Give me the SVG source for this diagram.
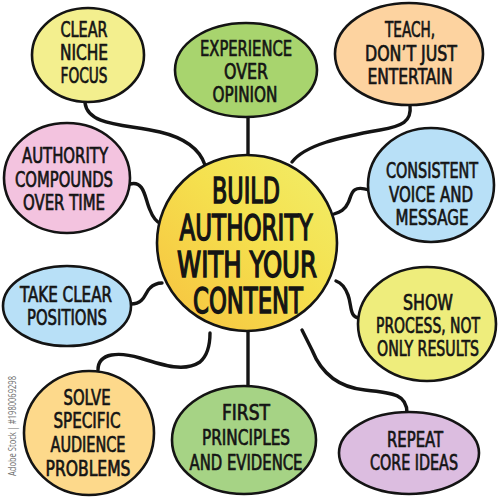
<svg xmlns="http://www.w3.org/2000/svg" width="500" height="497" viewBox="0 0 500 497">
<defs>
<linearGradient id="cg" x1="0" y1="1" x2="1" y2="0">
<stop offset="0" stop-color="#f7c13f"/>
<stop offset="0.55" stop-color="#f5e04e"/>
<stop offset="1" stop-color="#f1ee6a"/>
</linearGradient>
<style>
.nb{stroke:#141414;stroke-width:2.6}
.t{font-family:"Liberation Sans Narrow","DejaVu Sans Condensed","Liberation Sans",sans-serif;font-size:21.5px;fill:#141414;text-anchor:middle;stroke:#141414;stroke-width:0.7}
.ct{font-size:35px;stroke-width:1.4}
.c{fill:none;stroke:#141414;stroke-width:3.4;stroke-linecap:round;stroke-linejoin:round}
.wm{font-family:"Open Sans","Liberation Sans",sans-serif;font-size:10.5px;fill:#6f6f6f}
</style>
</defs>
<rect width="500" height="497" fill="#ffffff"/>
<g id="connectors">
<path class="c" d="M85,103 C88,126 125,124 160,132 C185,138 200,150 205,165"/>
<path class="c" d="M248,117 L248,156"/>
<path class="c" d="M410,105 C412,122 402,126 380,130 C340,137 305,145 292,162"/>
<path class="c" d="M130,184 C145,180 145,200 150,210 C153,218 157,222 161,224"/>
<path class="c" d="M369,190 C350,184 352,196 348,203 C345,210 340,212 334,214"/>
<path class="c" d="M131,304 C145,304 145,292 150,288 C154,284 158,283 162,283"/>
<path class="c" d="M360,318 C349,318 352,305 348,295 C345,287 342,283 336,281"/>
<path class="c" d="M98,370 C98,352 120,352 140,358 C165,366 185,372 200,362 C208,355 210,345 210,333"/>
<path class="c" d="M248,331 L248,386"/>
<path class="c" d="M407,413 C407,395 395,393 365,390 C335,387 320,370 312,350 C308,342 305,336 302,330"/>
</g>
<g id="center">
<ellipse class="nb" cx="247" cy="243" rx="90" ry="88" fill="url(#cg)" stroke-width="3"/>
<text class="t ct" x="246" y="203" textLength="68" lengthAdjust="spacingAndGlyphs">BUILD</text>
<text class="t ct" x="246" y="240" textLength="133" lengthAdjust="spacingAndGlyphs">AUTHORITY</text>
<text class="t ct" x="247" y="277" textLength="140" lengthAdjust="spacingAndGlyphs">WITH YOUR</text>
<text class="t ct" x="248" y="313" textLength="110" lengthAdjust="spacingAndGlyphs">CONTENT</text>
</g>
<g id="n-clear-niche">
<ellipse class="nb" cx="88" cy="55" rx="56" ry="47" fill="#f3ef8e"/>
<text class="t" x="84" y="37" textLength="47" lengthAdjust="spacingAndGlyphs">CLEAR</text>
<text class="t" x="84" y="60" textLength="48" lengthAdjust="spacingAndGlyphs">NICHE</text>
<text class="t" x="84" y="83" textLength="47" lengthAdjust="spacingAndGlyphs">FOCUS</text>
</g>
<g id="n-experience">
<ellipse class="nb" cx="246" cy="70" rx="71" ry="47" fill="#a8d46e"/>
<text class="t" x="246" y="56" textLength="92" lengthAdjust="spacingAndGlyphs">EXPERIENCE</text>
<text class="t" x="246" y="79" textLength="44" lengthAdjust="spacingAndGlyphs">OVER</text>
<text class="t" x="245" y="102" textLength="65" lengthAdjust="spacingAndGlyphs">OPINION</text>
</g>
<g id="n-teach">
<ellipse class="nb" cx="409" cy="54" rx="74" ry="51" fill="#fdd3a0"/>
<text class="t" x="410" y="37" textLength="50" lengthAdjust="spacingAndGlyphs">TEACH,</text>
<text class="t" x="411" y="61" textLength="92" lengthAdjust="spacingAndGlyphs">DON’T JUST</text>
<text class="t" x="410" y="84" textLength="85" lengthAdjust="spacingAndGlyphs">ENTERTAIN</text>
</g>
<g id="n-authority">
<ellipse class="nb" cx="67" cy="178" rx="63" ry="55" fill="#f3c3df"/>
<text class="t" x="65" y="163" textLength="86" lengthAdjust="spacingAndGlyphs">AUTHORITY</text>
<text class="t" x="64" y="187" textLength="98" lengthAdjust="spacingAndGlyphs">COMPOUNDS</text>
<text class="t" x="64" y="210" textLength="82" lengthAdjust="spacingAndGlyphs">OVER TIME</text>
</g>
<g id="n-consistent">
<ellipse class="nb" cx="431" cy="185" rx="63" ry="57" fill="#b8e0f7"/>
<text class="t" x="432" y="178" textLength="92" lengthAdjust="spacingAndGlyphs">CONSISTENT</text>
<text class="t" x="431" y="202" textLength="84" lengthAdjust="spacingAndGlyphs">VOICE AND</text>
<text class="t" x="432" y="225" textLength="73" lengthAdjust="spacingAndGlyphs">MESSAGE</text>
</g>
<g id="n-take-clear">
<ellipse class="nb" cx="67" cy="306" rx="64" ry="40" fill="#b8e0f7"/>
<text class="t" x="66" y="302" textLength="92" lengthAdjust="spacingAndGlyphs">TAKE CLEAR</text>
<text class="t" x="67" y="325" textLength="80" lengthAdjust="spacingAndGlyphs">POSITIONS</text>
</g>
<g id="n-show-process">
<ellipse class="nb" cx="427" cy="324" rx="69" ry="57" fill="#eeed7c"/>
<text class="t" x="428" y="310" textLength="50" lengthAdjust="spacingAndGlyphs">SHOW</text>
<text class="t" x="428" y="333" textLength="104" lengthAdjust="spacingAndGlyphs">PROCESS, NOT</text>
<text class="t" x="428" y="356" textLength="102" lengthAdjust="spacingAndGlyphs">ONLY RESULTS</text>
</g>
<g id="n-solve">
<ellipse class="nb" cx="89" cy="433" rx="65" ry="62" fill="#fdd98b"/>
<text class="t" x="87" y="405" textLength="47" lengthAdjust="spacingAndGlyphs">SOLVE</text>
<text class="t" x="87" y="428" textLength="67" lengthAdjust="spacingAndGlyphs">SPECIFIC</text>
<text class="t" x="88" y="452" textLength="75" lengthAdjust="spacingAndGlyphs">AUDIENCE</text>
<text class="t" x="88" y="476" textLength="85" lengthAdjust="spacingAndGlyphs">PROBLEMS</text>
</g>
<g id="n-first-principles">
<ellipse class="nb" cx="244" cy="440" rx="72" ry="54" fill="#a6d385"/>
<text class="t" x="246" y="420" textLength="48" lengthAdjust="spacingAndGlyphs">FIRST</text>
<text class="t" x="246" y="445" textLength="88" lengthAdjust="spacingAndGlyphs">PRINCIPLES</text>
<text class="t" x="246" y="470" textLength="113" lengthAdjust="spacingAndGlyphs">AND EVIDENCE</text>
</g>
<g id="n-repeat">
<ellipse class="nb" cx="409" cy="453" rx="70" ry="41" fill="#dcbde0"/>
<text class="t" x="415" y="447" textLength="56" lengthAdjust="spacingAndGlyphs">REPEAT</text>
<text class="t" x="414" y="470" textLength="88" lengthAdjust="spacingAndGlyphs">CORE IDEAS</text>
</g>
<text class="wm" transform="translate(16,476) rotate(-90)" textLength="100" lengthAdjust="spacingAndGlyphs">Adobe Stock | #1980069298</text>
</svg>
